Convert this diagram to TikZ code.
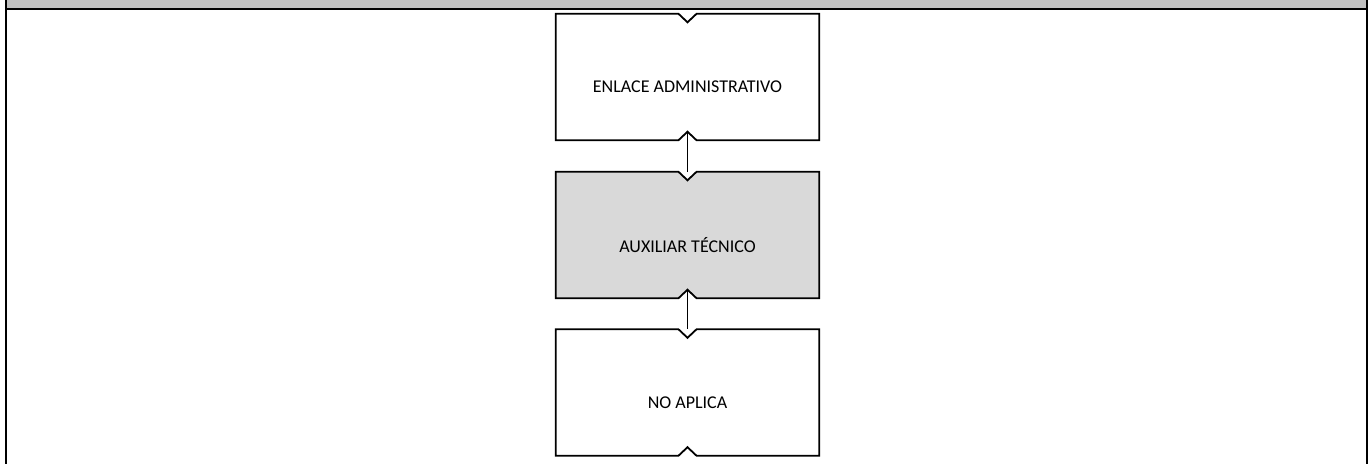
\documentclass[tikz,border=0pt]{standalone}
\usepackage{fontspec}
\setmainfont{Carlito}
\usetikzlibrary{calc}
\definecolor{headgray}{HTML}{C0C0C0}
\definecolor{boxgray}{HTML}{D9D9D9}
\tikzset{
  boxshape/.style={draw=none, minimum width=263pt, minimum height=126pt, inner sep=0pt},
  lbl/.style={inner sep=0pt, font=\fontsize{18}{22}\selectfont},
  boxline/.style={draw=black, line width=1.8pt, line join=miter},
  conn/.style={draw=black, line width=1.3pt},
  frameline/.style={draw=black, line width=2pt}
}
\newcommand{\notchbox}[2]{%
  \draw[boxline, fill=#2] (#1.north west) -- ($(#1.north)+(-9pt,0)$) -- ($(#1.north)+(0,-8.5pt)$) -- ($(#1.north)+(9pt,0)$) -- (#1.north east) -- (#1.south east) -- ($(#1.south)+(9pt,0)$) -- ($(#1.south)+(0,8.5pt)$) -- ($(#1.south)+(-9pt,0)$) -- (#1.south west) -- cycle;}
\begin{document}
\begin{tikzpicture}[x=1pt,y=-1pt]
\useasboundingbox (0,0) rectangle (1368,464);
% header band and frame
\fill[headgray] (6,0) rectangle (1368,9);
\draw[frameline] (6,9) -- (1368,9);
\draw[frameline] (6,0) -- (6,464);
\draw[frameline] (1367,0) -- (1367,464);
% boxes
\node[boxshape] (b1) at (687.5,77) {};
\node[boxshape] (b2) at (687.5,235) {};
\node[boxshape] (b3) at (687.5,392.5) {};
\notchbox{b1}{white}
\notchbox{b2}{boxgray}
\notchbox{b3}{white}
\node[lbl] (t1) at ($(b1.center)+(0,-10pt)$) {ENLACE ADMINISTRATIVO};
\node[lbl] (t2) at ($(b2.center)+(0,-10pt)$) {AUXILIAR TÉCNICO};
\node[lbl] (t3) at ($(b3.center)+(0,-10pt)$) {NO APLICA};
% connectors
\draw[conn] ($(b1.south)+(0,8.5pt)$) -- (b2.north);
\draw[conn] ($(b2.south)+(0,8.5pt)$) -- (b3.north);
\end{tikzpicture}
\end{document}
